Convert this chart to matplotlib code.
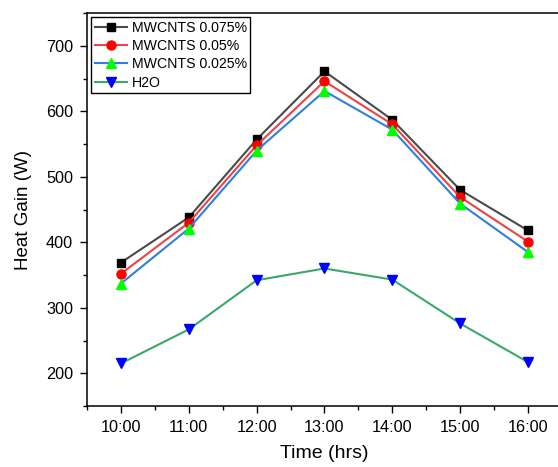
import numpy as np
import matplotlib.pyplot as plt
from matplotlib.ticker import MultipleLocator

plt.rcParams['font.family'] = ['Liberation Sans', 'DejaVu Sans']

hours = ['10:00', '11:00', '12:00', '13:00', '14:00', '15:00', '16:00']
mwcnts_075 = [369, 438, 557, 661, 587, 480, 418]
mwcnts_05 = [352, 430, 548, 646, 580, 469, 401]
mwcnts_025 = [337, 421, 540, 631, 572, 459, 385]
h2o = [215, 267, 342, 360, 343, 276, 217]

x = np.arange(len(hours))

fig = plt.figure(figsize=(5.58, 4.67), dpi=100)
ax = fig.add_axes([0.156, 0.1306, 0.851, 0.8414])

ax.plot(x, mwcnts_075, color='#4a4a4a', lw=1.5, marker='s', ms=5.5,
        mfc='black', mec='black', label='MWCNTS 0.075%')
ax.plot(x, mwcnts_05, color='#ea4446', lw=1.5, marker='o', ms=6.5,
        mfc='red', mec='red', label='MWCNTS 0.05%')
ax.plot(x, mwcnts_025, color='#2f7fe0', lw=1.5, marker='^', ms=7,
        mfc='#00ff00', mec='#00ff00', label='MWCNTS 0.025%')
ax.plot(x, h2o, color='#3aa86b', lw=1.5, marker='v', ms=7,
        mfc='blue', mec='blue', label='H2O')

ax.set_xlim(-0.5, 6.5)
ax.set_ylim(150, 750)
ax.set_xticks(x)
ax.set_xticklabels(hours)
ax.xaxis.set_minor_locator(MultipleLocator(0.5))
ax.yaxis.set_major_locator(MultipleLocator(100))
ax.yaxis.set_minor_locator(MultipleLocator(50))
ax.tick_params(which='major', direction='out', length=5, width=1,
               labelsize=11.7, pad=5)
ax.tick_params(which='minor', direction='out', length=3, width=1)
for side in ax.spines.values():
    side.set_linewidth(1.1)

ax.set_xlabel('Time (hrs)', fontsize=14, labelpad=7)
ax.set_ylabel('Heat Gain (W)', fontsize=13.5, labelpad=10)

leg = ax.legend(loc='upper left', fontsize=10.2, frameon=True, fancybox=False,
                edgecolor='black', framealpha=1, borderpad=0.25,
                handlelength=2.3, handletextpad=0.3, labelspacing=0.3,
                borderaxespad=0.3)
leg.get_frame().set_linewidth(1)

fig.savefig('out.png', dpi=100)
